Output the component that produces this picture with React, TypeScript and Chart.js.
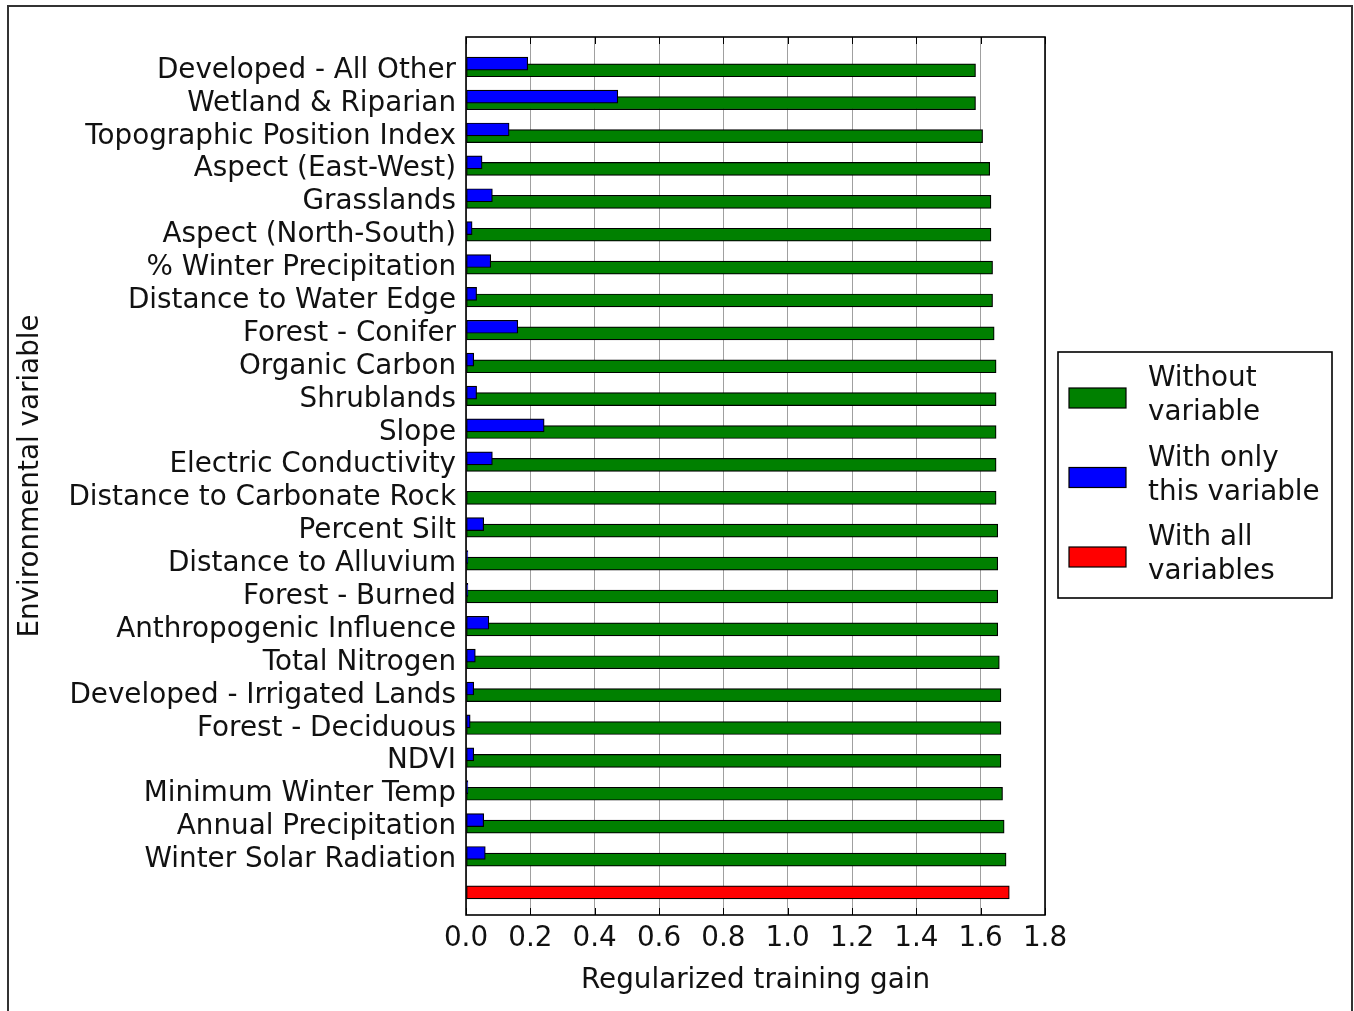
import React, { useEffect, useRef } from "react";
import { Chart, registerables } from "chart.js";

Chart.register(...registerables);

const categories = [
  "Developed - All Other",
  "Wetland & Riparian",
  "Topographic Position Index",
  "Aspect (East-West)",
  "Grasslands",
  "Aspect (North-South)",
  "% Winter Precipitation",
  "Distance to Water Edge",
  "Forest - Conifer",
  "Organic Carbon",
  "Shrublands",
  "Slope",
  "Electric Conductivity",
  "Distance to Carbonate Rock",
  "Percent Silt",
  "Distance to Alluvium",
  "Forest - Burned",
  "Anthropogenic Influence",
  "Total Nitrogen",
  "Developed - Irrigated Lands",
  "Forest - Deciduous",
  "NDVI",
  "Minimum Winter Temp",
  "Annual Precipitation",
  "Winter Solar Radiation",
];

const withoutVariable = [
  1.584, 1.584, 1.606, 1.628, 1.632, 1.632, 1.637, 1.637, 1.642, 1.648, 1.648,
  1.648, 1.648, 1.648, 1.653, 1.653, 1.653, 1.653, 1.658, 1.663, 1.663, 1.663,
  1.668, 1.673, 1.679,
];

const withOnlyVariable = [
  0.192, 0.472, 0.134, 0.05, 0.082, 0.019, 0.077, 0.033, 0.161, 0.024, 0.033,
  0.243, 0.082, 0.0, 0.055, 0.006, 0.006, 0.071, 0.029, 0.024, 0.013, 0.024,
  0.006, 0.055, 0.06,
];

const withAllVariables = [1.689];

const xTicks = [0.0, 0.2, 0.4, 0.6, 0.8, 1.0, 1.2, 1.4, 1.6, 1.8];

const legendLabels = [
  ["Without", "variable"],
  ["With only", "this variable"],
  ["With all", "variables"],
];

const GREEN = "#008000";
const BLUE = "#0000ff";
const RED = "#ff0000";
const FONT = "'DejaVu Sans', 'Liberation Sans', sans-serif";
const FONT_SIZE = 27.8;
const GREEN_SHIFT = 0.2;
const LABEL_SHIFT = 0.21;

export default function App() {
  const ref = useRef<HTMLCanvasElement | null>(null);

  useEffect(() => {
    if (!ref.current) return;

    const framePlugin = {
      id: "framePlugin",
      afterDatasetsDraw(chart: any) {
        const { ctx, chartArea } = chart;
        const { left, right, top, bottom } = chartArea;
        const xs = chart.scales.x;
        ctx.save();
        ctx.strokeStyle = "#000";
        ctx.lineWidth = 1;
        xTicks.forEach((v) => {
          const px = Math.round(xs.getPixelForValue(v)) + 0.5;
          ctx.beginPath();
          ctx.moveTo(px, top);
          ctx.lineTo(px, top + 7);
          ctx.moveTo(px, bottom);
          ctx.lineTo(px, bottom - 7);
          ctx.stroke();
        });
        ctx.lineWidth = 1.6;
        ctx.strokeRect(left, top, right - left, bottom - top);
        ctx.restore();
      },
      afterDraw(chart: any) {
        const { ctx } = chart;
        const colors = [GREEN, BLUE, RED];
        ctx.save();
        ctx.lineWidth = 1.6;
        ctx.strokeStyle = "#000";
        ctx.fillStyle = "#fff";
        ctx.fillRect(1058, 352, 274, 246);
        ctx.strokeRect(1058, 352, 274, 246);
        ctx.font = `${FONT_SIZE}px ${FONT}`;
        ctx.textBaseline = "middle";
        ctx.textAlign = "left";
        legendLabels.forEach((lines, i) => {
          const cy = 398 + i * 79.5;
          ctx.fillStyle = colors[i];
          ctx.fillRect(1069, cy - 10, 57, 20);
          ctx.lineWidth = 1.2;
          ctx.strokeRect(1069, cy - 10, 57, 20);
          ctx.fillStyle = "#111";
          lines.forEach((t, j) => {
            ctx.fillText(t, 1148, cy - 19 + j * 34);
          });
        });
        ctx.restore();
      },
    };

    const chart = new Chart(ref.current, {
      type: "bar",
      data: {
        datasets: [
          {
            label: "Without variable",
            data: withoutVariable.map((v, i) => ({ x: v, y: i + GREEN_SHIFT })),
            backgroundColor: GREEN,
            borderColor: "#000",
            borderWidth: 1.2,
            borderSkipped: false,
            barThickness: 13,
            grouped: false,
            order: 2,
          },
          {
            label: "With only this variable",
            data: withOnlyVariable.map((v, i) => ({ x: v, y: i })),
            backgroundColor: BLUE,
            borderColor: "#000",
            borderWidth: 1.2,
            borderSkipped: false,
            barThickness: 13,
            grouped: false,
            order: 1,
          },
          {
            label: "With all variables",
            data: withAllVariables.map((v) => ({ x: v, y: categories.length + GREEN_SHIFT })),
            backgroundColor: RED,
            borderColor: "#000",
            borderWidth: 1.2,
            borderSkipped: false,
            barThickness: 13,
            grouped: false,
            order: 3,
          },
        ] as any,
      },
      options: {
        indexAxis: "y",
        animation: false,
        responsive: false,
        maintainAspectRatio: false,
        layout: { padding: { left: 12, right: 309, top: 37, bottom: 0 } },
        plugins: {
          legend: { display: false },
          tooltip: { enabled: false },
        },
        scales: {
          x: {
            type: "linear",
            position: "bottom",
            min: 0,
            max: 1.8,
            afterBuildTicks: (scale: any) => {
              scale.ticks = xTicks.map((v) => ({ value: v }));
            },
            ticks: {
              color: "#111",
              font: { size: FONT_SIZE, family: FONT },
              padding: 7,
              maxRotation: 0,
              autoSkip: false,
              callback: (v: any) => Number(v).toFixed(1),
            },
            grid: { color: "#a0a0a0", lineWidth: 1, drawTicks: false },
            border: { display: false },
            title: {
              display: true,
              text: "Regularized training gain",
              color: "#111",
              font: { size: FONT_SIZE, family: FONT },
              padding: { top: 4, bottom: 14 },
            },
            afterFit: (scale: any) => {
              scale.height = 96;
            },
          },
          y: {
            type: "linear",
            reverse: true,
            offset: false,
            min: -0.812,
            max: 25.886,
            afterBuildTicks: (scale: any) => {
              scale.ticks = categories.map((_, i) => ({ value: i + LABEL_SHIFT }));
            },
            ticks: {
              color: "#111",
              font: { size: FONT_SIZE, family: FONT },
              padding: 10,
              autoSkip: false,
              callback: (_v: any, idx: number) => categories[idx] ?? "",
            },
            grid: { display: false, drawTicks: false },
            border: { display: false },
            title: {
              display: true,
              text: "Environmental variable",
              color: "#111",
              font: { size: FONT_SIZE, family: FONT },
              padding: { top: 2, bottom: 4 },
            },
            afterFit: (scale: any) => {
              scale.width = 454;
            },
          },
        },
      } as any,
      plugins: [framePlugin],
    });

    return () => chart.destroy();
  }, []);

  return (
    <div style={{ position: "fixed", left: 0, top: 0, width: 1354, height: 1011, background: "#fff" }}>
      <div
        style={{
          position: "absolute",
          left: 7,
          top: 5,
          width: 1342,
          height: 1030,
          borderLeft: "2px solid #333",
          borderRight: "2px solid #333",
          borderTop: "2px solid #333",
        }}
      />
      <canvas ref={ref} width={1354} height={1011} style={{ position: "absolute", left: 0, top: 0, width: 1354, height: 1011 }} />
    </div>
  );
}
